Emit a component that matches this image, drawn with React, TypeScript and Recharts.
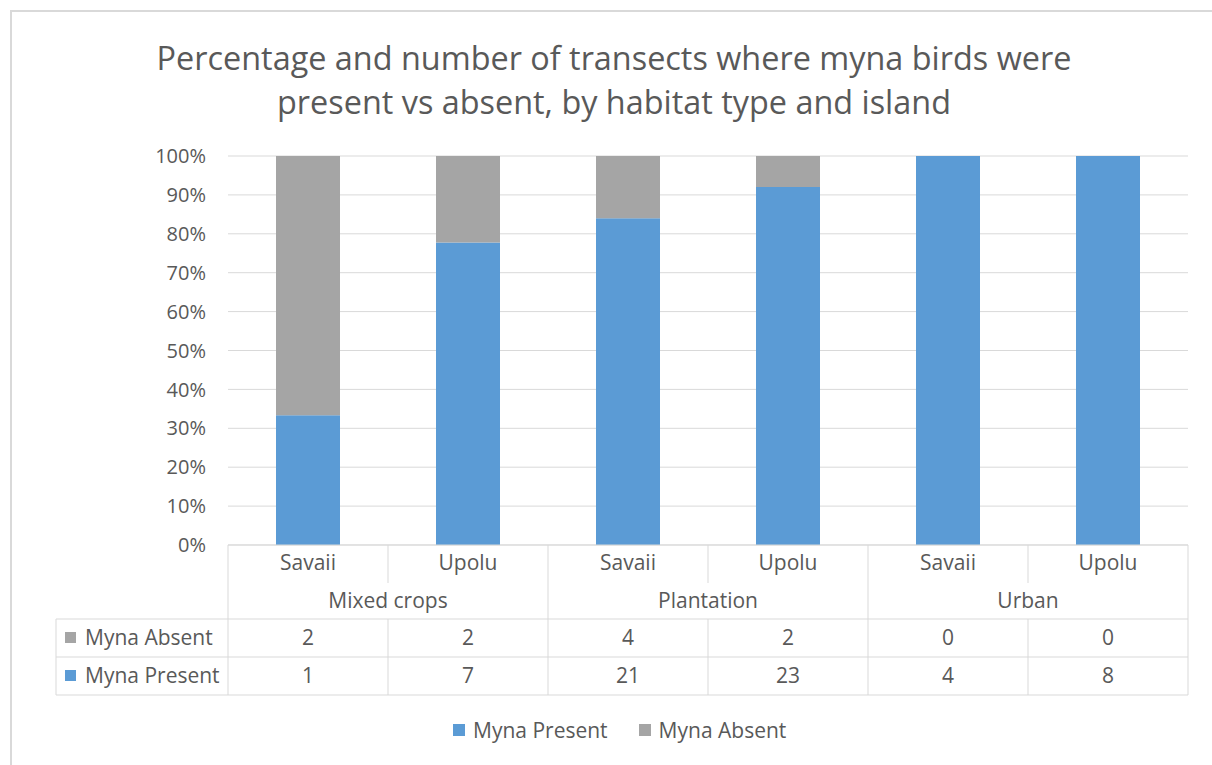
import { BarChart, Bar, XAxis, YAxis, CartesianGrid, Legend } from 'recharts'

const islands = ['Savaii', 'Upolu', 'Savaii', 'Upolu', 'Savaii', 'Upolu']
const habitats = ['Mixed crops', 'Plantation', 'Urban']
const mynaPresent = [1, 7, 21, 23, 4, 8]
const mynaAbsent = [2, 2, 4, 2, 0, 0]
const yTicks = [0, 0.1, 0.2, 0.3, 0.4, 0.5, 0.6, 0.7, 0.8, 0.9, 1]

const BLUE = '#5b9bd5'
const GREY = '#a5a5a5'
const LINE = '#d9d9d9'
const TEXT = '#595959'
const FONT = '"Open Sans", sans-serif'
const HEADER_W = 172

const data = islands.map((island, i) => ({
  key: `${island}-${i}`,
  island,
  habitat: habitats[Math.floor(i / 2)],
  present: mynaPresent[i],
  absent: mynaAbsent[i],
}))

// draws one column of the data table under the bars (plus the row headers for the first one)
function TableTick(props: any) {
  const { x, y, payload } = props
  const i: number = payload.index
  const half = payload.offset ? payload.offset : 80
  const l = x - half
  const r = x + half
  const even = i % 2 === 0
  const last = i === data.length - 1
  const d = data[i]
  const txt = { fill: TEXT, fontSize: 21, fontFamily: FONT, textAnchor: 'middle' as const, dominantBaseline: 'central' as const }

  return (
    <g>
      {even ? (
        <line x1={l} y1={y} x2={l} y2={y + 150} stroke={LINE} />
      ) : (
        <>
          <line x1={l} y1={y} x2={l} y2={y + 38} stroke={LINE} />
          <line x1={l} y1={y + 74} x2={l} y2={y + 150} stroke={LINE} />
        </>
      )}
      {last && <line x1={r} y1={y} x2={r} y2={y + 150} stroke={LINE} />}
      <line x1={l} y1={y + 74} x2={r} y2={y + 74} stroke={LINE} />
      <line x1={l} y1={y + 112} x2={r} y2={y + 112} stroke={LINE} />
      <line x1={l} y1={y + 150} x2={r} y2={y + 150} stroke={LINE} />
      <text x={x} y={y + 17} {...txt}>{d.island}</text>
      {even && <text x={r} y={y + 55} {...txt}>{d.habitat}</text>}
      <text x={x} y={y + 92} {...txt}>{d.absent}</text>
      <text x={x} y={y + 130} {...txt}>{d.present}</text>
      {i === 0 && (
        <g>
          <line x1={l - HEADER_W} y1={y + 74} x2={l} y2={y + 74} stroke={LINE} />
          <line x1={l - HEADER_W} y1={y + 112} x2={l} y2={y + 112} stroke={LINE} />
          <line x1={l - HEADER_W} y1={y + 150} x2={l} y2={y + 150} stroke={LINE} />
          <line x1={l - HEADER_W} y1={y + 74} x2={l - HEADER_W} y2={y + 150} stroke={LINE} />
          <rect x={l - HEADER_W + 9} y={y + 87} width={11} height={11} fill={GREY} />
          <text x={l - HEADER_W + 29} y={y + 92} {...txt} textAnchor="start">Myna Absent</text>
          <rect x={l - HEADER_W + 9} y={y + 125} width={11} height={11} fill={BLUE} />
          <text x={l - HEADER_W + 29} y={y + 130} {...txt} textAnchor="start">Myna Present</text>
        </g>
      )}
    </g>
  )
}

function LegendContent() {
  const items = [
    { name: 'Myna Present', color: BLUE },
    { name: 'Myna Absent', color: GREY },
  ]
  return (
    <div style={{ display: 'flex', gap: 31, fontFamily: FONT, fontSize: 21, color: TEXT, whiteSpace: 'nowrap' }}>
      {items.map((it) => (
        <div key={it.name} style={{ display: 'flex', alignItems: 'center', gap: 8 }}>
          <div style={{ width: 12, height: 12, background: it.color }} />
          <span>{it.name}</span>
        </div>
      ))}
    </div>
  )
}

export default function App() {
  return (
    <div style={{ position: 'absolute', left: 0, top: 0, width: 1212, height: 765, background: '#fff', overflow: 'hidden' }}>
      <div
        style={{
          position: 'absolute',
          left: 10,
          top: 10,
          right: -4,
          bottom: -4,
          borderTop: `2px solid ${LINE}`,
          borderLeft: `2px solid ${LINE}`,
        }}
      />
      <div
        style={{
          position: 'absolute',
          left: 0,
          top: 35,
          width: 1228,
          textAlign: 'center',
          fontFamily: FONT,
          fontSize: 32.4,
          lineHeight: '44px',
          color: TEXT,
        }}
      >
        Percentage and number of transects where myna birds were
        <br />
        present vs absent, by habitat type and island
      </div>
      <div style={{ position: 'absolute', left: 0, top: 0 }}>
        <BarChart
          width={1212}
          height={765}
          data={data}
          stackOffset="expand"
          barCategoryGap="30%"
          margin={{ top: 156, right: 24, bottom: 0, left: 0 }}
        >
          <CartesianGrid vertical={false} stroke={LINE} />
          <XAxis
            dataKey="key"
            height={220}
            tick={<TableTick />}
            tickLine={false}
            tickSize={0}
            tickMargin={0}
            axisLine={{ stroke: LINE }}
            interval={0}
          />
          <YAxis
            width={228}
            domain={[0, 1]}
            ticks={yTicks}
            tickFormatter={(v: number) => `${Math.round(v * 100)}%`}
            tick={{ fill: TEXT, fontSize: 20, fontFamily: FONT }}
            tickLine={false}
            tickSize={0}
            tickMargin={22}
            axisLine={false}
          />
          <Legend
            layout="horizontal"
            verticalAlign="middle"
            align="center"
            content={<LegendContent />}
            wrapperStyle={{ left: 453, top: 716, width: 'auto' }}
          />
          <Bar dataKey="present" name="Myna Present" stackId="a" fill={BLUE} isAnimationActive={false} />
          <Bar dataKey="absent" name="Myna Absent" stackId="a" fill={GREY} isAnimationActive={false} />
        </BarChart>
      </div>
    </div>
  )
}
